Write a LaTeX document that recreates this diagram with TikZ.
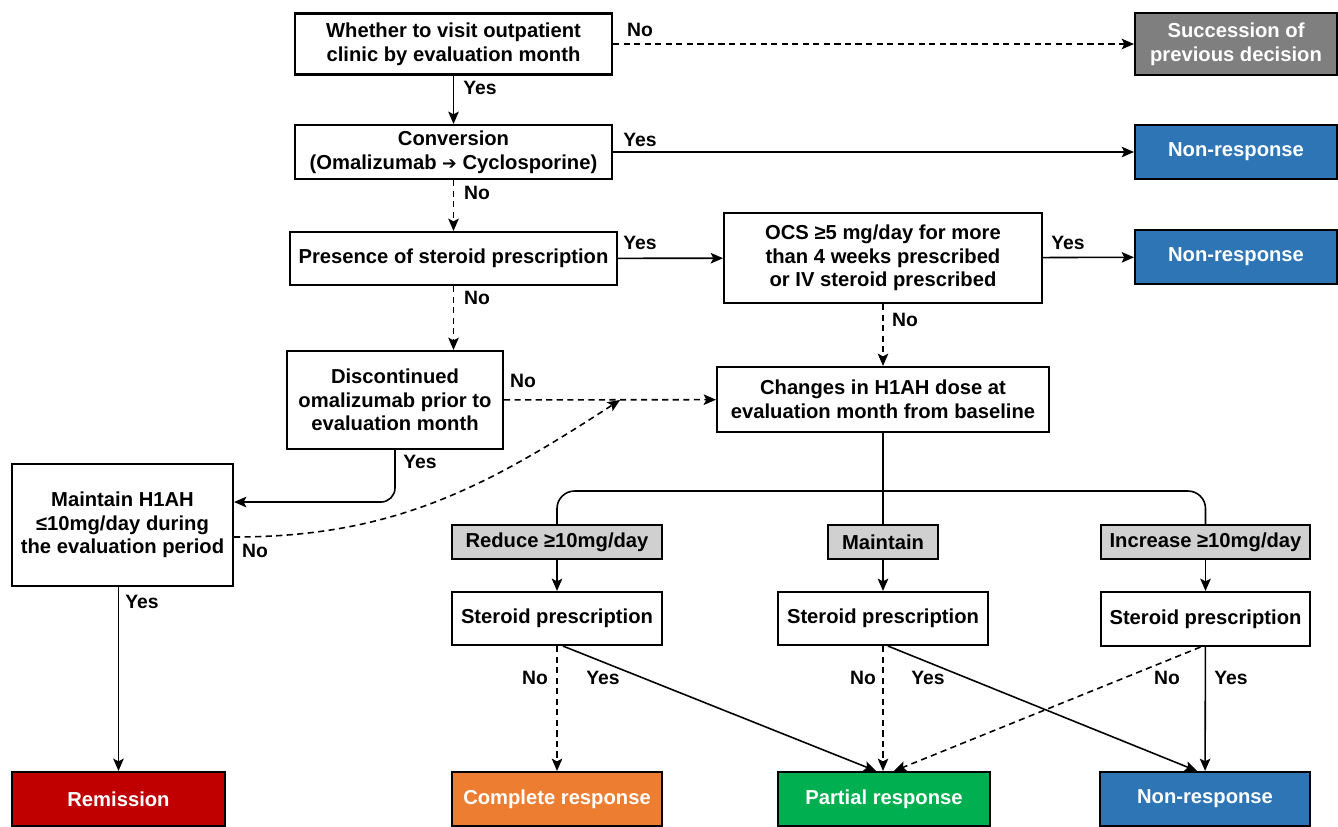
\documentclass[tikz,border=0pt]{standalone}
\usepackage{fontspec}
\setmainfont{Liberation Sans}
\newfontfamily\dingfont{DejaVu Sans}
\usetikzlibrary{arrows.meta, positioning, calc}

\definecolor{succgrey}{HTML}{7F7F7F}
\definecolor{stepgrey}{HTML}{D0D0D0}
\definecolor{nonblue}{HTML}{2E75B6}
\definecolor{remred}{HTML}{C00000}
\definecolor{comporange}{HTML}{ED7D31}
\definecolor{partgreen}{HTML}{00B050}

\tikzset{
  box/.style={draw, line width=1.2pt, align=center, inner sep=0pt,
    font=\bfseries\fontsize{11.5}{13.5}\selectfont},
  dosebox/.style={box, fill=stepgrey, minimum height=0.68cm},
  result/.style={box, text=white, minimum height=1.08cm},
  lbl/.style={inner sep=0pt, font=\bfseries\fontsize{11}{13}\selectfont},
  arr/.style={line width=0.9pt, -{Stealth[length=7pt,width=6pt,inset=1.5pt]}},
  dsh/.style={arr, dash pattern=on 3.5pt off 2.5pt},
  plain/.style={line width=0.9pt},
}

\begin{document}
\begin{tikzpicture}[x=0.02cm, y=-0.02cm]
  \useasboundingbox (0,0) rectangle (1338,826);
  % ---- decision column ----
  \node[box, minimum width=6.34cm, minimum height=1.22cm] (visit) at (453.5,44)
    {Whether to visit outpatient\\clinic by evaluation month};
  \node[box, minimum width=6.34cm, minimum height=1.08cm] (conv) at (453.5,152)
    {Conversion\\(Omalizumab {\dingfont\fontsize{10}{12}\selectfont ➔} Cyclosporine)};
  \node[box, minimum width=6.54cm, minimum height=1.06cm] (steroid) at (453.5,258.5)
    {Presence of steroid prescription};
  \node[box, minimum width=6.36cm, minimum height=1.8cm] (ocs) at (883,258)
    {OCS ≥5 mg/day for more\\than 4 weeks prescribed\\or IV steroid prescribed};
  \node[box, minimum width=4.32cm, minimum height=1.96cm] (disc) at (395,400)
    {Discontinued\\omalizumab prior to\\evaluation month};
  \node[box, minimum width=6.64cm, minimum height=1.3cm] (changes) at (883,399.5)
    {Changes in H1AH dose at\\evaluation month from baseline};
  \node[box, minimum width=4.42cm, minimum height=2.44cm] (keep) at (122.5,525)
    {Maintain H1AH\\≤10mg/day during\\the evaluation period};

  % ---- right-hand outcomes ----
  \node[result, fill=succgrey, minimum width=4.04cm, minimum height=1.24cm] (succ) at (1236,44)
    {Succession of\\previous decision};
  \node[result, fill=nonblue, minimum width=4.04cm] (nonA) at (1236,152) {Non-response};
  \node[result, fill=nonblue, minimum width=4.04cm] (nonB) at (1236,257) {Non-response};

  % ---- dose change branches ----
  \node[dosebox, minimum width=4.2cm] (reduce) at (557,542) {Reduce ≥10mg/day};
  \node[dosebox, minimum width=2.2cm] (same) at (883,542) {Maintain};
  \node[dosebox, minimum width=4.18cm] (increase) at (1205.5,542) {Increase ≥10mg/day};
  \node[box, minimum width=4.2cm, minimum height=1.06cm] (spA) at (557,618.5) {Steroid prescription};
  \node[box, minimum width=4.2cm, minimum height=1.06cm] (spB) at (883,618.5) {Steroid prescription};
  \node[box, minimum width=4.18cm, minimum height=1.08cm] (spC) at (1205.5,619) {Steroid prescription};

  % ---- bottom outcomes ----
  \node[result, fill=remred, minimum width=4.26cm] (remission) at (118.5,799) {Remission};
  \node[result, fill=comporange, minimum width=4.2cm] (complete) at (557,799) {Complete response};
  \node[result, fill=partgreen, minimum width=4.24cm] (partial) at (884,799) {Partial response};
  \node[result, fill=nonblue, minimum width=4.2cm] (nonC) at (1205,799) {Non-response};

  % ---- connectors ----
  \draw[dsh] (visit) -- (succ);
  \draw[arr] (visit) -- (conv);
  \draw[arr] (conv) -- (nonA);
  \draw[dsh] (conv) -- (steroid);
  \draw[arr] (steroid) -- (ocs);
  \draw[arr] (ocs) -- (nonB);
  \draw[dsh] (ocs) -- (changes);
  \draw[dsh] (steroid.south) -- (steroid.south |- disc.north);
  \draw[dsh] (disc) -- (changes);
  \coordinate (merge) at (620,400);
  \draw[arr, rounded corners=8pt] (disc.south) |- ([yshift=0.46cm]keep.east);
  \draw[dsh] ([yshift=-0.24cm]keep.east) to[out=0, in=213] (merge);
  \draw[arr] (keep.south -| remission.north) -- (remission.north);
  \coordinate (split) at (883,491);
  \draw[plain] (changes) -- (same);
  \draw[plain, rounded corners=10pt] (reduce.north) |- (split) -| (increase.north);
  \draw[arr] (reduce) -- (spA);
  \draw[arr] (same) -- (spB);
  \draw[arr] (increase) -- (spC);
  \draw[dsh] (spA) -- (complete);
  \draw[arr] ([xshift=0.12cm]spA.south) -- ([xshift=-0.16cm]partial.north);
  \draw[dsh] (spB.south) -- (spB.south |- partial.north);
  \draw[arr] ([xshift=0.1cm]spB.south) -- ([xshift=-0.16cm]nonC.north);
  \draw[dsh] ([xshift=-0.1cm]spC.south) -- ([xshift=0.2cm]partial.north);
  \draw[arr] (spC) -- (nonC);

  % ---- yes / no labels ----
  \node[lbl] (noVisit) at (640,30) {No};
  \node[lbl] (yesVisit) at (480,88) {Yes};
  \node[lbl] (yesConv) at (640,140) {Yes};
  \node[lbl] (noConv) at (477,193) {No};
  \node[lbl] (yesSteroid) at (640,243) {Yes};
  \node[lbl] (yesOcs) at (1068,243) {Yes};
  \node[lbl] (noOcs) at (905,320) {No};
  \node[lbl] (noSteroid) at (477,298) {No};
  \node[lbl] (noDisc) at (523,381) {No};
  \node[lbl] (yesDisc) at (420,462) {Yes};
  \node[lbl] (noKeep) at (255,551) {No};
  \node[lbl] (yesKeep) at (142,602) {Yes};
  \node[lbl] (noA) at (535,678) {No};
  \node[lbl] (yesA) at (603,678) {Yes};
  \node[lbl] (noB) at (863,678) {No};
  \node[lbl] (yesB) at (928,678) {Yes};
  \node[lbl] (noC) at (1167,678) {No};
  \node[lbl] (yesC) at (1231,678) {Yes};
\end{tikzpicture}
\end{document}
